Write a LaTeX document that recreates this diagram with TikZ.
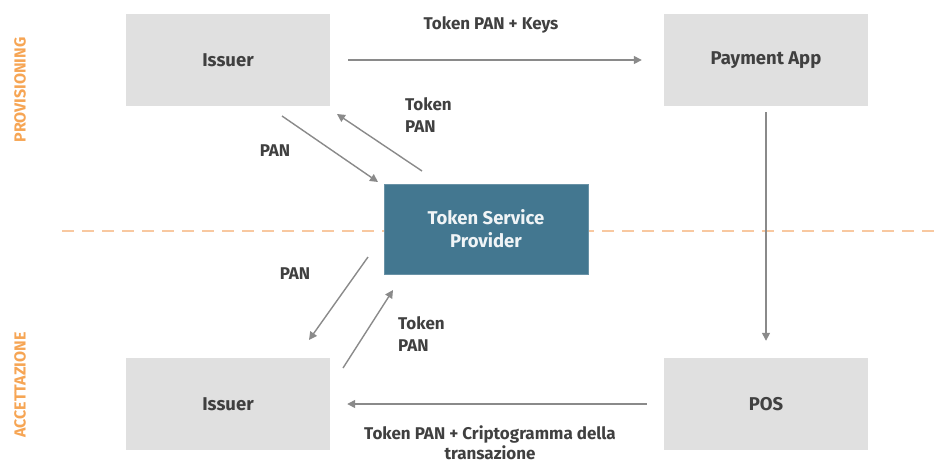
\documentclass[tikz,border=0pt]{standalone}
\usepackage{fontspec}
\setmainfont{Fira Sans}
\usetikzlibrary{arrows.meta}
\definecolor{boxgray}{HTML}{E0E0E0}
\definecolor{tspblue}{HTML}{437790}
\definecolor{txtgray}{HTML}{404040}
\definecolor{arrgray}{HTML}{8A8A8A}
\definecolor{orangedash}{HTML}{F8C8A0}
\definecolor{orangetxt}{HTML}{F6A554}
\tikzset{
  graybox/.style={fill=boxgray, draw=none, minimum width=204pt, minimum height=92pt, inner sep=0pt, font=\bfseries\fontsize{18.5}{22}\selectfont, text=txtgray},
  tspbox/.style={fill=tspblue, draw=tspblue!80!white, line width=1pt, minimum width=204pt, minimum height=90pt, inner sep=0pt, font=\bfseries\fontsize{18.5}{23}\selectfont, text=white!92!tspblue, align=center},
  conn/.style={draw=arrgray, line width=1.4pt, -{Triangle[length=8pt,width=8pt]}},
  lbl/.style={font=\bfseries\fontsize{17}{21.5}\selectfont, text=txtgray, inner sep=0pt},
  phase/.style={font=\bfseries\fontsize{16}{18}\selectfont, text=orangetxt, rotate=90, inner sep=0pt}
}
\begin{document}
\begin{tikzpicture}[x=1pt,y=-1pt]
\useasboundingbox (0,0) rectangle (936,459);
% dashed separator
\draw[orangedash, line width=2.5pt, dash pattern=on 12pt off 8pt] (62,231) -- (936,231);
% boxes
\node[graybox] (iss1) at (228,60) {Issuer};
\node[graybox] (app) at (766,60) {Payment App};
\node[tspbox] (tsp) at (486,229) {Token Service\\Provider};
\node[graybox] (iss2) at (228,404) {Issuer};
\node[graybox] (pos) at (766,404) {POS};
% phase labels
\node[phase] (prov) at (20,90) {PROVISIONING};
\node[phase] (acc) at (20,385) {ACCETTAZIONE};
% coordinates for diagonal arrows
\coordinate (a1s) at (282,116);
\coordinate (a1e) at (378,182);
\coordinate (a2s) at (422,171);
\coordinate (a2e) at (337,114);
\coordinate (a3s) at (368,257);
\coordinate (a3e) at (309,340);
\coordinate (a4s) at (343,368);
\coordinate (a4e) at (393,290);
% connectors
\draw[conn] ([xshift=18pt]iss1.east) -- ([xshift=-22pt]app.west);
\draw[conn] ([yshift=-6pt]app.south) -- ([yshift=17pt]pos.north);
\draw[conn] ([xshift=-17pt]pos.west) -- ([xshift=17pt]iss2.east);
\draw[conn] (a1s) -- (a1e);
\draw[conn] (a2s) -- (a2e);
\draw[conn] (a3s) -- (a3e);
\draw[conn] (a4s) -- (a4e);
% labels
\node[lbl] (l1) at (491,25) {Token PAN + Keys};
\node[lbl] (l2) at (275,151) {PAN};
\node[lbl, align=left, anchor=west] (l3) at (405,115) {Token\\PAN};
\node[lbl] (l4) at (295,274) {PAN};
\node[lbl, align=left, anchor=west] (l5) at (398,334) {Token\\PAN};
\node[lbl, align=center, anchor=north, font=\bfseries\fontsize{17}{20}\selectfont] (l6) at (490,426) {Token PAN + Criptogramma della\\transazione};
\end{tikzpicture}
\end{document}
